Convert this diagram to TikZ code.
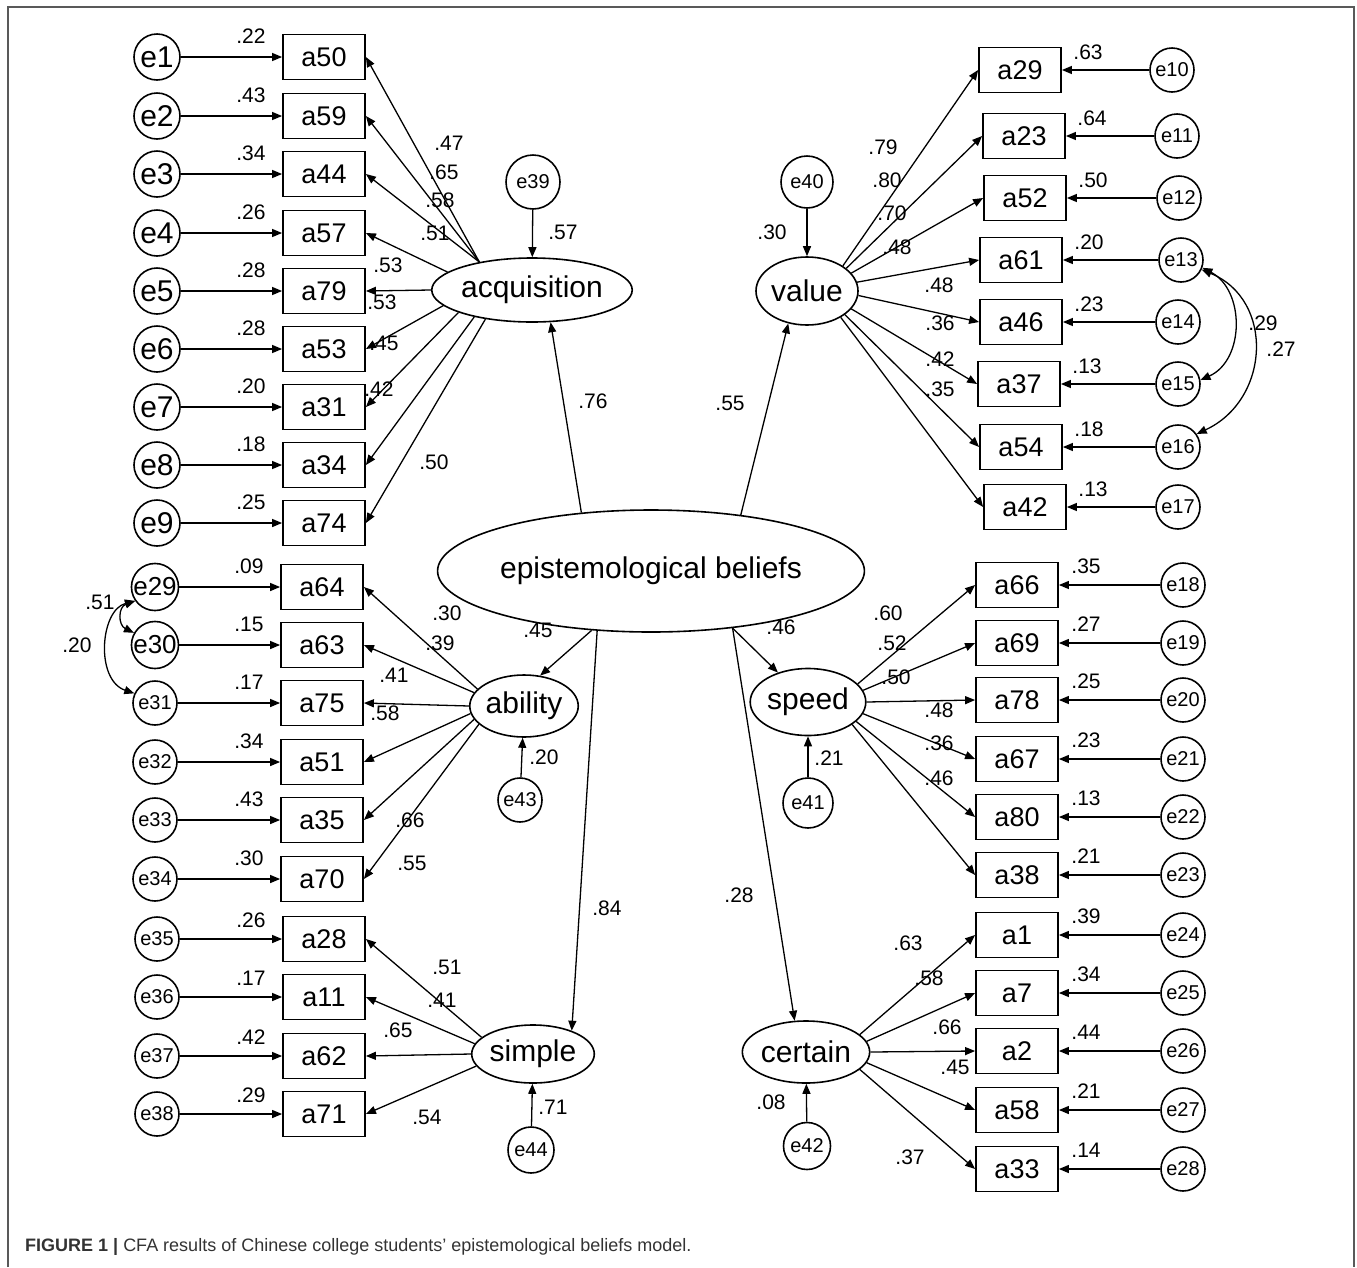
\documentclass[tikz,border=0pt]{standalone}
\usepackage{fontspec}
\setmainfont{Liberation Sans}
\usetikzlibrary{arrows.meta, shapes.geometric}

\begin{document}
\begin{tikzpicture}[
		x=1pt, y=-1pt,
		obsbox/.style={
			rectangle,
			draw,
			line width=1.8pt,
			minimum width=82pt,
			minimum height=45pt,
			inner sep=0pt,
			font=\fontsize{27}{27}\selectfont,
		},
		errbig/.style={circle, draw, line width=1.6pt, minimum size=46pt, inner sep=0pt, font=\fontsize{30}{30}\selectfont},
		errmid/.style={circle, draw, line width=1.6pt, minimum size=45pt, inner sep=0pt, font=\fontsize{26}{26}\selectfont},
		errsmall/.style={circle, draw, line width=1.6pt, minimum size=44pt, inner sep=0pt, font=\fontsize{20}{20}\selectfont},
		latent/.style={ellipse, draw, line width=1.6pt, inner sep=0pt, font=\fontsize{30}{30}\selectfont},
		coef/.style={inner sep=0pt, font=\fontsize{21}{21}\selectfont},
		arr/.style={-{Triangle[length=10pt, width=8pt]}, line width=1.3pt},
		cov/.style={{Triangle[length=10pt, width=8pt]}-{Triangle[length=10pt, width=8pt]}, line width=1.3pt},
		]
		\useasboundingbox (0,0) rectangle (1357,1267);
		\draw[line width=1.5pt, black!65] (8,1267) -- (8,7) -- (1354,7) -- (1354,1267);
		
		% latent variables
		\node[latent, minimum width=331pt, minimum height=122pt] (epi) at (651,571) {epistemological beliefs};
		\node[latent, minimum width=155pt, minimum height=64pt] (acq) at (532,290) {acquisition};
		\node[latent, minimum width=102pt, minimum height=68pt] (val) at (807,291) {value};
		\node[latent, minimum width=107pt, minimum height=62pt] (abil) at (524,706) {ability};
		\node[latent, minimum width=113pt, minimum height=67pt] (speed) at (808,702) {speed};
		\node[latent, minimum width=114pt, minimum height=58pt] (simp) at (533,1054) {simple};
		\node[latent, minimum width=111pt, minimum height=62pt] (cert) at (806,1052) {certain};
		
		% disturbances
		\node[errsmall, minimum size=54pt] (e39) at (533,182) {e39};
		\node[errsmall, minimum size=52pt] (e40) at (807,182) {e40};
		\node[errsmall] (e43) at (520,800) {e43};
		\node[errsmall, minimum size=50pt] (e41) at (808,803) {e41};
		\node[errsmall, minimum size=46pt] (e44) at (531,1150) {e44};
		\node[errsmall, minimum size=47pt] (e42) at (807,1146) {e42};
		
		\draw[arr] (e39) -- (acq);
		\draw[arr] (e40) -- (val);
		\draw[arr] (e43) -- (abil);
		\draw[arr] (e41) -- (speed);
		\draw[arr] (e44) -- (simp);
		\draw[arr] (e42) -- (cert);
		\node[coef] at (563,232) {.57};
		\node[coef] at (772,232) {.30};
		\node[coef] at (544,757) {.20};
		\node[coef] at (829,758) {.21};
		\node[coef] at (553,1107) {.71};
		\node[coef] at (771,1102) {.08};
		
		% second order paths
		\draw[arr] (epi.140) -- (acq.-60);
		\draw[arr] (epi.32) -- (val.-120);
		\draw[arr] (epi.225) -- (abil.62);
		\draw[arr] (epi.228) -- (simp.31);
		\draw[arr] (epi.325) -- (speed);
		\draw[arr] (epi.325) -- (cert.110);
		\node[coef] at (593,401) {.76};
		\node[coef] at (730,403) {.55};
		\node[coef] at (538,630) {.45};
		\node[coef] at (607,908) {.84};
		\node[coef] at (781,627) {.46};
		\node[coef] at (739,895) {.28};
		
		% acquisition
		\foreach \n/\y/\e/\sa/\ev/\ld/\lx/\ly in {
			a50/57/1/152/.22/.47/449/143, a59/116/2/152/.43/.65/444/172, a44/174/3/152/.34/.58/440/200,
			a57/233/4/168/.26/.51/435/233, a79/291/5/180/.28/.53/388/265, a53/349/6/190/.28/.53/382/302,
			a31/407/7/197/.20/.45/384/343, a34/465/8/205/.18/.42/379/389, a74/523/9/212/.25/.50/434/462}{
			\node[obsbox] (\n) at (324,\y) {\n};
			\node[errbig] (e\e) at (157,\y) {e\e};
			\draw[arr] (e\e) -- (\n);
			\draw[arr] (acq.\sa) -- (\n.east);
			\node[coef] at (251,\y-21) {\ev};
			\node[coef] at (\lx,\ly) {\ld};
		}
		
		% ability
		\foreach \n/\y/\e/\st/\sa/\ev/\ld/\lx/\ly in {
			a64/587/29/errmid/160/.09/.30/447/613, a63/645/30/errmid/165/.15/.39/440/643,
			a75/703/31/errsmall/180/.17/.41/394/675, a51/762/32/errsmall/188/.34/.58/385/713,
			a35/820/33/errsmall/195/.43/.66/410/820, a70/879/34/errsmall/202/.30/.55/412/863}{
			\node[obsbox] (\n) at (322,\y) {\n};
			\node[\st] (e\e) at (155,\y) {e\e};
			\draw[arr] (e\e) -- (\n);
			\draw[arr] (abil.\sa) -- (\n.east);
			\node[coef] at (249,\y-21) {\ev};
			\node[coef] at (\lx,\ly) {\ld};
		}
		
		% simple
		\foreach \n/\y/\e/\sa/\ev/\ld/\lx/\ly in {
			a28/939/35/162/.26/.51/447/967, a11/997/36/170/.17/.41/442/1000,
			a62/1056/37/180/.42/.65/398/1030, a71/1114/38/192/.29/.54/427/1117}{
			\node[obsbox] (\n) at (324,\y) {\n};
			\node[errsmall] (e\e) at (157,\y) {e\e};
			\draw[arr] (e\e) -- (\n);
			\draw[arr] (simp.\sa) -- (\n.east);
			\node[coef] at (251,\y-19) {\ev};
			\node[coef] at (\lx,\ly) {\ld};
		}
		
		% value
		\foreach \n/\bx/\y/\e/\ex/\sa/\ev/\ld/\lx/\ly in {
			a29/1020/70/10/1172/35/.63/.79/883/147, a23/1024/136/11/1177/30/.64/.80/887/180,
			a52/1025/198/12/1179/22/.50/.70/892/213, a61/1021/260/13/1181/10/.20/.48/897/247,
			a46/1021/322/14/1178/-5/.23/.48/939/285, a37/1019/384/15/1178/-22/.13/.36/940/323,
			a54/1021/447/16/1178/-32/.18/.42/940/359, a42/1025/507/17/1178/-38/.13/.35/940/389}{
			\node[obsbox] (\n) at (\bx,\y) {\n};
			\node[errsmall] (e\e) at (\ex,\y) {e\e};
			\draw[arr] (e\e) -- (\n);
			\draw[arr] (val.\sa) -- (\n.west);
			\node[coef] at (\bx+68,\y-18) {\ev};
			\node[coef] at (\lx,\ly) {\ld};
		}
		
		% speed
		\foreach \n/\y/\e/\sa/\ev/\ld/\lx/\ly in {
			a66/585/18/20/.35/.60/888/613, a69/643/19/12/.27/.52/892/643, a78/700/20/0/.25/.50/896/677,
			a67/759/21/-12/.23/.48/939/710, a80/817/22/-22/.13/.36/939/743, a38/875/23/-27/.21/.46/939/778}{
			\node[obsbox] (\n) at (1017,\y) {\n};
			\node[errsmall] (e\e) at (1183,\y) {e\e};
			\draw[arr] (e\e) -- (\n);
			\draw[arr] (speed.\sa) -- (\n.west);
			\node[coef] at (1086,\y-19) {\ev};
			\node[coef] at (\lx,\ly) {\ld};
		}
		
		% certain
		\foreach \n/\y/\e/\sa/\ev/\ld/\lx/\ly in {
			a1/935/24/18/.39/.63/908/943, a7/993/25/10/.34/.58/929/978, a2/1051/26/0/.44/.66/947/1027,
			a58/1110/27/-10/.21/.45/955/1067, a33/1169/28/-18/.14/.37/910/1157}{
			\node[obsbox] (\n) at (1017,\y) {\n};
			\node[errsmall] (e\e) at (1183,\y) {e\e};
			\draw[arr] (e\e) -- (\n);
			\draw[arr] (cert.\sa) -- (\n.west);
			\node[coef] at (1086,\y-19) {\ev};
			\node[coef] at (\lx,\ly) {\ld};
		}
		
		% correlated errors
		\draw[cov] (e13.-20) .. controls (1245,290) and (1245,360) .. (e15.10);
		\draw[cov] (e13.-25) .. controls (1275,300) and (1270,400) .. (e16.35);
		\node[coef] at (1263,323) {.29};
		\node[coef] at (1281,349) {.27};
		\draw[cov] (e29.215) .. controls (118,607) and (118,625) .. (e30.150);
		\draw[cov] (e29.215) .. controls (100,610) and (95,680) .. (e31.155);
		\node[coef] at (100,602) {.51};
		\node[coef] at (77,645) {.20};
		
		\node[anchor=west, inner sep=0pt, font=\fontsize{18}{18}\selectfont, text=black!80] (caption) at (25,1247)
		{\textbf{FIGURE 1 |} CFA results of Chinese college students’ epistemological beliefs model.};
	\end{tikzpicture}
\end{document}
